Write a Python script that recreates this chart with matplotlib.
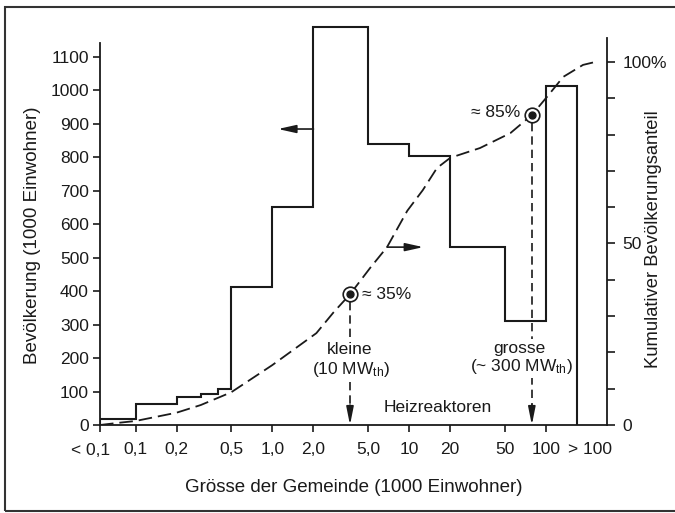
import matplotlib
matplotlib.use('Agg')
import matplotlib.pyplot as plt
from matplotlib.patches import Rectangle
from matplotlib.ticker import NullLocator

plt.rcParams['font.family'] = ['Liberation Sans', 'DejaVu Sans']
plt.rcParams['mathtext.default'] = 'regular'
plt.rcParams['font.size'] = 12.5

ink = '#1a1a1a'

# size classes of communities (1000 inhabitants) and population in each class
edges = [0.055, 0.1, 0.2, 0.3, 0.4, 0.5, 1.0, 2.0, 5.0, 10, 20, 50, 100, 170]
population = [18, 63, 84, 93, 108, 412, 650, 1190, 840, 804, 532, 311, 1013]

# cumulative population share (%)
cum_x = [0.055, 0.075, 0.1, 0.2, 0.3, 0.5, 1.0, 2.1, 2.8, 3.7, 5.2, 6.9, 9.7,
         12.6, 16, 20, 33, 55, 79, 102, 134, 187, 229]
cum_y = [0, 0.6, 1.1, 3.4, 5.5, 9, 16.5, 25.3, 31, 36, 43.3, 49, 59,
         64.7, 70.8, 73.6, 76.3, 80.4, 85.4, 90.4, 95.9, 99.2, 100]

tick_vals = [0.055, 0.1, 0.2, 0.5, 1, 2, 5, 10, 20, 50, 100, 210]
tick_labels = ['', '0,1', '0,2', '0,5', '1,0', '2,0', '5,0', '10', '20', '50', '100', '> 100']

# reactor sizes marked on the curve: (community size, cumulative %)
small_pt = (3.7, 36)
large_pt = (79, 85.4)

fig = plt.figure(figsize=(6.75, 5.13), dpi=100)
ax = fig.add_axes([100/675, 88/513, 507/675, 405/513])
ax2 = ax.twinx()

# histogram of population
ax.stairs(population, edges, baseline=0, color=ink, lw=1.5, zorder=2)
ax.set_xscale('log')
ax.set_xlim(0.055, 280)
ax.set_ylim(0, 1209.6)
ax.set_xticks(tick_vals)
ax.set_xticklabels(tick_labels)
ax.xaxis.set_minor_locator(NullLocator())
ax.xaxis.get_major_ticks()[-1].tick1line.set_visible(False)
ax.set_yticks(range(0, 1101, 100))
ax.tick_params(axis='y', direction='out', length=5, width=1.2, pad=3, colors=ink)
ax.tick_params(axis='x', direction='out', length=5, width=1.2, pad=7, colors=ink)
for s in ['top', 'right']:
    ax.spines[s].set_visible(False)
ax.spines['left'].set_bounds(0, 1141)
for s in ['left', 'bottom']:
    ax.spines[s].set_linewidth(1.3)
    ax.spines[s].set_color(ink)

# first class label sits a little left of its tick
ax.annotate('< 0,1', xy=(0.055, 0), xycoords=('data', 'axes fraction'),
            xytext=(-7, -18.3), textcoords='offset points',
            ha='center', va='center', color=ink)

# cumulative curve on the right axis
ax2.plot(cum_x, cum_y, color=ink, lw=1.3, dashes=(7.5, 3.3), zorder=3)
ax2.set_ylim(0, 111.57)
ax2.set_yticks([0, 50, 100])
ax2.set_yticklabels(['0', '50', '100%'])
ax2.set_yticks([10, 20, 30, 40, 60, 70, 80, 90], minor=True)
ax2.tick_params(axis='y', which='both', direction='out', length=6, width=1.2, pad=5, colors=ink)
for s in ['top', 'left', 'bottom']:
    ax2.spines[s].set_visible(False)
ax2.spines['right'].set_bounds(0, 106.6)
ax2.spines['right'].set_linewidth(1.3)
ax2.spines['right'].set_color(ink)

# markers and drop lines
for (px, py) in [small_pt, large_pt]:
    ax2.plot([px, px], [py - 2.2, 3.5], color=ink, lw=1.2, dashes=(5, 3), zorder=2)
    ax2.annotate('', xy=(px, 0), xytext=(px, 5.5),
                 arrowprops=dict(arrowstyle='-|>,head_length=0.9,head_width=0.18',
                                 color=ink, lw=1.2, mutation_scale=12, shrinkA=0, shrinkB=0))
    ax2.plot(px, py, 'o', ms=10.5, mfc='white', mec=ink, mew=1.2, zorder=5)
    ax2.plot(px, py, 'o', ms=5, mfc=ink, mec=ink, zorder=6)

ax2.text(4.55, 36, '≈ 35%', ha='left', va='center', color=ink, zorder=6)
ax2.text(64.9, 86, '≈ 85%', ha='right', va='center', color=ink, zorder=6)

box = dict(fc='white', ec='none', pad=1)
ax2.text(3.7, 20.9, 'kleine', ha='center', va='center', color=ink, bbox=box, zorder=4)
ax2.text(3.8, 15.4, '(10 MW$_{th}$)', ha='center', va='center', color=ink, bbox=box, zorder=4)
ax2.text(63.7, 21.2, 'grosse', ha='center', va='center', color=ink, bbox=box, zorder=4)
ax2.text(65.8, 16, '(~ 300 MW$_{th}$)', ha='center', va='center', color=ink, bbox=box, zorder=4)
ax2.text(16.3, 4.7, 'Heizreaktoren', ha='center', va='center', color=ink, zorder=4)

# arrows pointing to the axis of each curve
ax.annotate('', xy=(1.1, 884), xytext=(2.0, 884),
            arrowprops=dict(arrowstyle='-|>,head_length=0.9,head_width=0.2',
                            color=ink, lw=1.2, mutation_scale=12, shrinkA=0, shrinkB=0))
ax2.annotate('', xy=(12.7, 49), xytext=(6.9, 49),
             arrowprops=dict(arrowstyle='-|>,head_length=0.9,head_width=0.2',
                             color=ink, lw=1.2, mutation_scale=12, shrinkA=0, shrinkB=0))

# axis titles
fig.text(33/675, 1 - 235/513, 'Bevölkerung (1000 Einwohner)', rotation=90,
         ha='center', va='center', color=ink, fontsize=13.5)
fig.text(654/675, 1 - 239/513, 'Kumulativer Bevölkerungsanteil', rotation=90,
         ha='center', va='center', color=ink, fontsize=13.2)
fig.text(354/675, 1 - 487/513, 'Grösse der Gemeinde (1000 Einwohner)',
         ha='center', va='center', color=ink, fontsize=13.5)

# outer frame (right edge runs off the page)
fig.patches.append(Rectangle((5/675, 2/513), 1.2, 0.9825, transform=fig.transFigure,
                             fill=False, ec='#333333', lw=1.5))

fig.savefig('out.png', dpi=100)
